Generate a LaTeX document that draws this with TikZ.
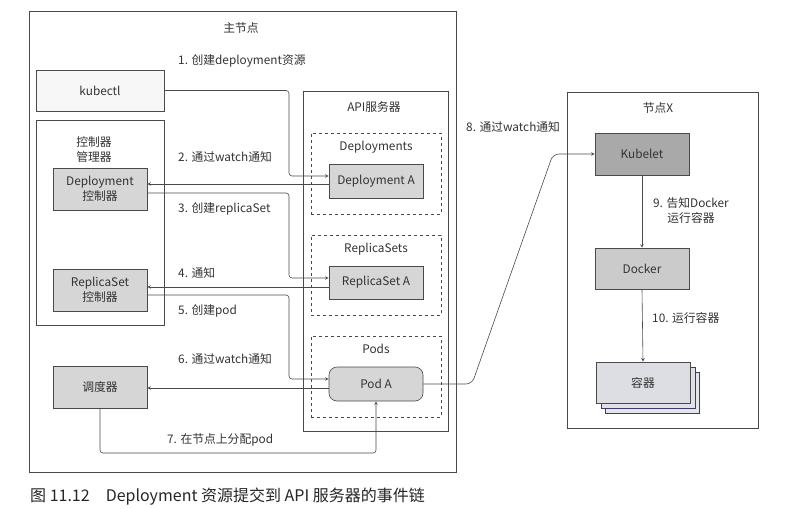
\documentclass[tikz,border=0pt]{standalone}
\usepackage{fontspec}
\setmainfont{Noto Sans CJK SC}
\usepackage{xcolor}
\usetikzlibrary{arrows,positioning,calc}

\definecolor{linegray}{HTML}{4A4A4A}
\definecolor{textgray}{HTML}{333333}
\definecolor{midgray}{HTML}{D6D6D6}
\definecolor{darkgray}{HTML}{A9A9A9}
\definecolor{contgray}{HTML}{DDDEE3}
\newcommand{\lbsize}{\fontsize{11.8}{15.5}\selectfont}

\begin{document}
\begin{tikzpicture}[
    x=1pt, y=-1pt,
    region/.style={rectangle, draw=linegray, line width=0.6pt, fill=white, inner sep=0pt},
    group/.style={rectangle, draw=linegray, dashed, line width=0.6pt, inner sep=0pt},
    comp/.style={rectangle, draw=linegray, line width=0.6pt, fill=midgray, minimum width=94pt, minimum height=42pt, align=center, font=\lbsize, text=textgray},
    res/.style={rectangle, draw=linegray, line width=0.6pt, fill=midgray, minimum width=94pt, minimum height=34pt, align=center, font=\lbsize, text=textgray},
    title/.style={font=\lbsize, text=textgray, align=center},
    lbl/.style={font=\lbsize, text=textgray, anchor=west, inner sep=0pt},
    arrow/.style={->, >=stealth, draw=linegray, line width=0.6pt, rounded corners=3pt}
]
\useasboundingbox (0,0) rectangle (804,509);
\fill[white] (0,0) rectangle (804,509);

% Master node
\node[region, minimum width=427pt, minimum height=461pt] (master) at (242.5,241.5) {};
\node[title] (mtitle) at (241,28) {主节点};

\node[region, fill=gray!6, minimum width=128pt, minimum height=41pt, font=\lbsize, text=textgray] (kubectl) at (100,90.5) {kubectl};

% Controller manager
\node[region, minimum width=128pt, minimum height=205pt] (ctrlmgr) at (100,222.5) {};
\node[title] (ctitle) at (94,149.5) {控制器\\管理器};
\node[comp] (depctrl) at (100,189) {Deployment\\控制器};
\node[comp] (rsctrl) at (100,290) {ReplicaSet\\控制器};
\node[comp] (sched) at (100,387) {调度器};

% API server
\node[region, minimum width=145pt, minimum height=340pt] (api) at (375.5,261) {};
\node[title] (atitle) at (374,107) {API服务器};

\node[group, minimum width=130pt, minimum height=81pt] (depgroup) at (376,173.5) {};
\node[title] (dtitle) at (376,147) {Deployments};
\node[res] (depA) at (376,181.5) {Deployment A};

\node[group, minimum width=130pt, minimum height=80pt] (rsgroup) at (376,275) {};
\node[title] (rtitle) at (376,249) {ReplicaSets};
\node[res, minimum height=33pt] (rsA) at (376,282.5) {ReplicaSet A};

\node[group, minimum width=130pt, minimum height=81pt] (podgroup) at (376,376.5) {};
\node[title] (ptitle) at (376,349) {Pods};
\node[res, rounded corners=8pt] (podA) at (376,384) {Pod A};

% Node X
\node[region, minimum width=191pt, minimum height=336pt] (nodex) at (662.5,260) {};
\node[title] (xtitle) at (658,108) {节点X};
\node[comp, fill=darkgray] (kubelet) at (642,154) {Kubelet};
\node[comp, fill=midgray!95!black, minimum height=41pt] (docker) at (642,268.5) {Docker};

% Containers
\node[comp, fill=contgray!80, draw=linegray!80!blue, minimum height=41pt] (cont3) at (652,392.5) {};
\node[comp, fill=contgray!90, draw=linegray!80!blue, minimum height=41pt] (cont2) at (648,387.5) {};
\node[comp, fill=contgray, minimum height=41pt] (cont) at (643,382.5) {容器};

% Helper coordinates
\coordinate (bus) at (289,0);
\coordinate (low) at (0,453);
\coordinate (bend1) at (472,0);
\coordinate (bend2) at (553,0);
\coordinate (depin) at ([yshift=5.5pt]depA.west);
\coordinate (depout) at ([yshift=-2.5pt]depA.west);
\coordinate (dcout) at ([yshift=-4pt]depctrl.east);
\coordinate (rsin) at ([yshift=4.5pt]rsA.west);
\coordinate (rsout) at ([yshift=-4.5pt]rsA.west);
\coordinate (rcout) at ([yshift=-5pt]rsctrl.east);
\coordinate (podin) at ([yshift=5pt]podA.west);
\coordinate (podout) at ([yshift=-4pt]podA.west);

% Arrows
\draw[arrow] (kubectl.east) -| (bus |- depin) -- (depin);
\draw[arrow] (depout) -- (depctrl.east |- depout);
\draw[arrow] (dcout) -| (bus |- rsin) -- (rsin);
\draw[arrow] (rsout) -- (rsctrl.east |- rsout);
\draw[arrow] (rcout) -| (bus |- podin) -- (podin);
\draw[arrow] (podout) -- (sched.east |- podout);
\draw[arrow] (sched.south) |- (low -| podA.south) -- (podA.south);
\draw[arrow, rounded corners=6pt] (podA.east) -- (podA.east -| bend1) -- (bend2 |- kubelet.west) -- (kubelet.west);
\draw[arrow] (kubelet.south) -- (docker.north);
\draw[arrow] (docker.south) -- (cont.north);

% Labels
\node[lbl] (l1) at (178,61) {1. 创建deployment资源};
\node[lbl] (l2) at (178,157) {2. 通过watch通知};
\node[lbl] (l3) at (178,209) {3. 创建replicaSet};
\node[lbl] (l4) at (178,273) {4. 通知};
\node[lbl] (l5) at (178,311) {5. 创建pod};
\node[lbl] (l6) at (178,359) {6. 通过watch通知};
\node[lbl] (l7) at (167,440) {7. 在节点上分配pod};
\node[lbl] (l8) at (466,127) {8. 通过watch通知};
\node[title] (l9) at (691,210.5) {9. 告知Docker\\运行容器};
\node[lbl] (l10) at (652,318) {10. 运行容器};

% Caption
\node[anchor=west, inner sep=0pt, font=\fontsize{16}{19}\selectfont, text=black!85] (caption) at (30,497) {图 11.12\quad Deployment 资源提交到 API 服务器的事件链};

\end{tikzpicture}
\end{document}
